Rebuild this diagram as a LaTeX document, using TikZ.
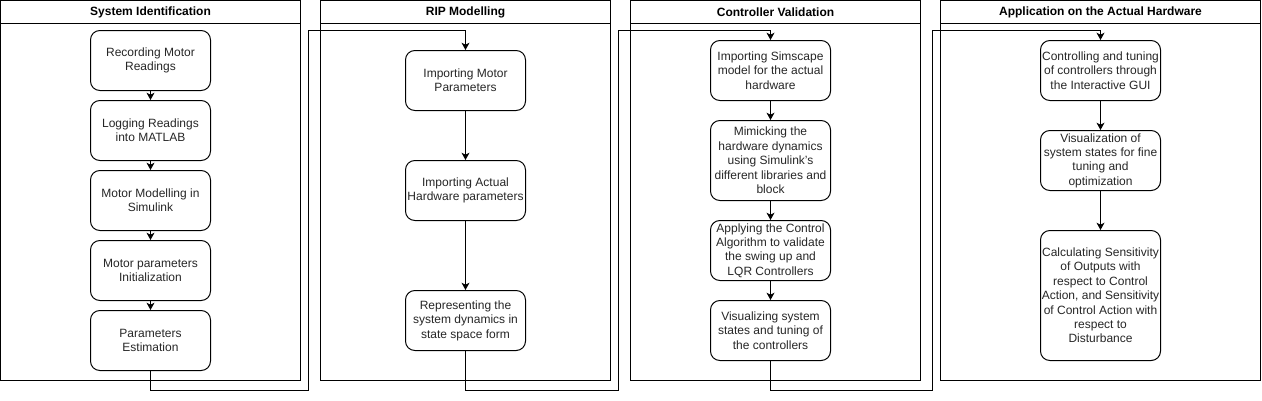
\documentclass[tikz,border=0pt]{standalone}
\usepackage{fontspec}
\setmainfont{Liberation Sans}
\usetikzlibrary{arrows.meta}

\begin{document}
\begin{tikzpicture}[x=0.75pt,y=-0.75pt,line width=0.75pt,
    every node/.style={font=\fontsize{9}{10.8}\selectfont,text=black!85},
    stage/.style={draw=black,rounded corners=7pt,minimum width=90pt,minimum height=45pt,inner sep=0pt,align=center},
    paneltitle/.style={font=\fontsize{9}{10.8}\selectfont\bfseries,text=black},
    flow/.style={-{Stealth[length=5.5pt,width=6pt,inset=1.5pt]}}]
    \useasboundingbox (-0.5,-0.5) rectangle (1261.5,399.5);

    % Panels with header bars
    \foreach \xa/\xb/\name/\title in {0/300/sid/System Identification,
        320/610/rip/RIP Modelling, 630/920/val/Controller Validation,
        940/1260/hw/Application on the Actual Hardware} {
      \draw (\xa,0) rectangle (\xb,380);
      \draw (\xa,23) -- (\xb,23);
      \node[paneltitle] (\name) at ({(\xa+\xb)/2},11.5) {\title};
    }

    % System identification
    \node[stage] (s1) at (150,60)  {Recording Motor\\Readings};
    \node[stage] (s2) at (150,130) {Logging Readings\\into MATLAB};
    \node[stage] (s3) at (150,200) {Motor Modelling in\\Simulink};
    \node[stage] (s4) at (150,270) {Motor parameters\\Initialization};
    \node[stage] (s5) at (150,340) {Parameters\\Estimation};

    % RIP modelling
    \node[stage] (r1) at (465,80)  {Importing Motor\\Parameters};
    \node[stage] (r2) at (465,190) {Importing Actual\\Hardware parameters};
    \node[stage] (r3) at (465,320) {Representing the\\system dynamics in\\state space form};

    % Controller validation
    \node[stage] (v1) at (770,70)  {Importing Simscape\\model for the actual\\hardware};
    \node[stage,minimum height=60pt] (v2) at (770,160)
      {Mimicking the\\hardware dynamics\\using Simulink's\\different libraries and\\block};
    \node[stage] (v3) at (770,250) {Applying the Control\\Algorithm to validate\\the swing up and\\LQR Controllers};
    \node[stage] (v4) at (770,330) {Visualizing system\\states and tuning of\\the controllers};

    % Application on the hardware
    \node[stage] (h1) at (1100,70)  {Controlling and tuning\\of controllers through\\the Interactive GUI};
    \node[stage] (h2) at (1100,160) {Visualization of\\system states for fine\\tuning and\\optimization};
    \node[stage,minimum height=97.5pt] (h3) at (1100,295)
      {Calculating Sensitivity\\of Outputs with\\respect to Control\\Action, and Sensitivity\\of Control Action with\\respect to\\Disturbance};

    % Arrows inside the panels
    \foreach \a/\b in {s1/s2,s2/s3,s3/s4,s4/s5,r1/r2,r2/r3,v1/v2,v2/v3,v3/v4,h1/h2,h2/h3}
      \draw[flow] (\a) -- (\b);

    % Links between the panels
    \coordinate (k1a) at (308,390); \coordinate (k1b) at (308,30);
    \coordinate (k2a) at (618,390); \coordinate (k2b) at (618,30);
    \coordinate (k3a) at (932,390); \coordinate (k3b) at (932,30);
    \draw[flow] (s5.south) |- (k1a) -- (k1b) -| (r1.north);
    \draw[flow] (r3.south) |- (k2a) -- (k2b) -| (v1.north);
    \draw[flow] (v4.south) |- (k3a) -- (k3b) -| (h1.north);
\end{tikzpicture}
\end{document}
